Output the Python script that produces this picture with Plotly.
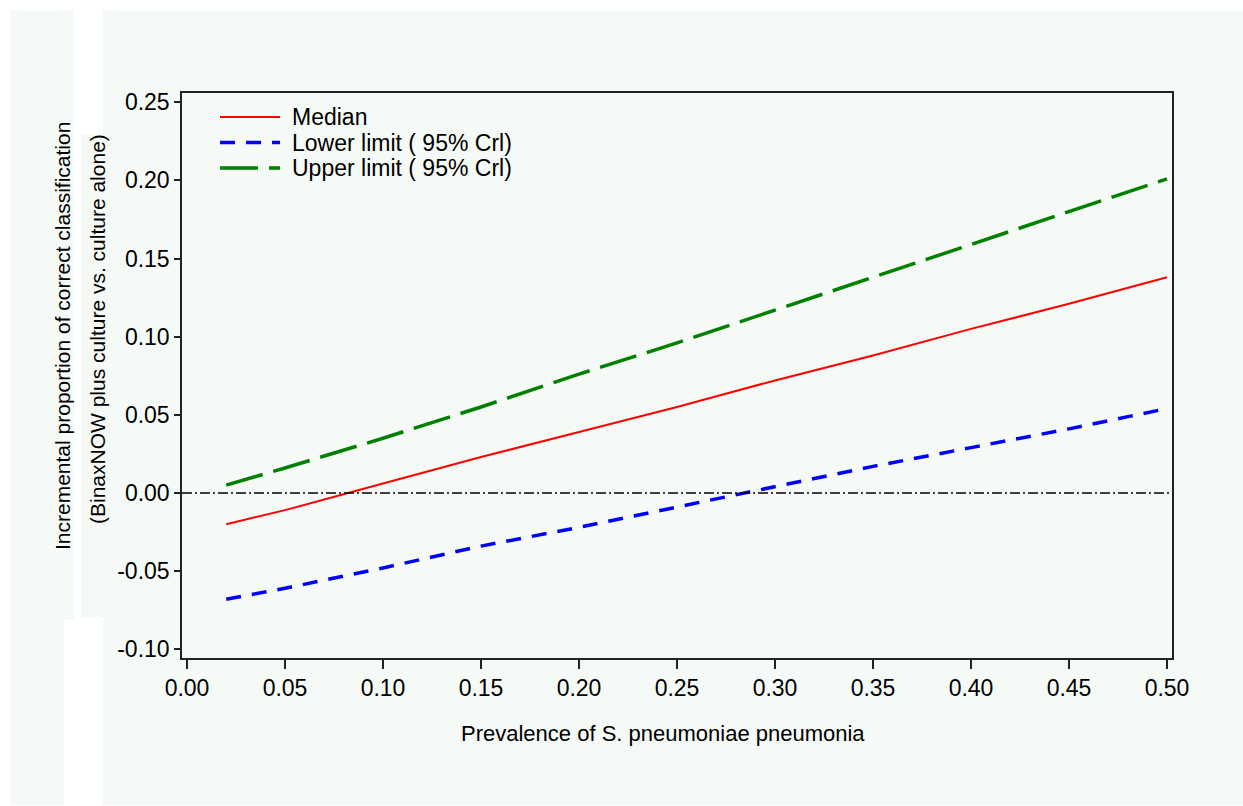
import plotly.graph_objects as go

# ---- data ----
prevalence = [0.02, 0.05, 0.10, 0.15, 0.20, 0.25, 0.30, 0.35, 0.40, 0.45, 0.50]
median = [-0.020, -0.011, 0.006, 0.023, 0.039, 0.055, 0.072, 0.088, 0.105, 0.121, 0.138]
lower = [-0.068, -0.061, -0.048, -0.034, -0.022, -0.009, 0.004, 0.017, 0.029, 0.041, 0.054]
upper = [0.005, 0.016, 0.035, 0.055, 0.076, 0.096, 0.117, 0.138, 0.159, 0.180, 0.201]

series_names = ["Median", "Lower limit ( 95% Crl)", "Upper limit ( 95% Crl)"]
series_colors = ["#ff0000", "#0000ff", "#008000"]
series_widths = [2, 3.5, 3.5]
series_dashes = ["solid", "15px,11px", "38px,11px"]

x_tickvals = [0.00, 0.05, 0.10, 0.15, 0.20, 0.25, 0.30, 0.35, 0.40, 0.45, 0.50]
x_ticktext = ["0.00", "0.05", "0.10", "0.15", "0.20", "0.25", "0.30", "0.35", "0.40", "0.45", "0.50"]
y_tickvals = [-0.10, -0.05, 0.00, 0.05, 0.10, 0.15, 0.20, 0.25]
y_ticktext = ["-0.10", "-0.05", "0.00", "0.05", "0.10", "0.15", "0.20", "0.25"]

x_title = "Prevalence of S. pneumoniae pneumonia"
y_title_1 = "Incremental proportion of correct classification"
y_title_2 = "(BinaxNOW plus culture vs. culture alone)"

# ---- layout constants ----
W, H = 1243, 806
ML, MR, MT, MB = 182, 71, 93, 148
PW, PH = W - ML - MR, H - MT - MB
MINT = "#f5faf6"
FONT = "Liberation Sans, Arial, Helvetica, sans-serif"


def px_x(p):
    return (p - ML) / PW


def px_y(p):
    return (H - MB - p) / PH


fig = go.Figure()
for yvals, name, col, wid, dash in zip([median, lower, upper], series_names,
                                       series_colors, series_widths, series_dashes):
    fig.add_trace(go.Scatter(x=prevalence, y=yvals, mode="lines", name=name,
                             line=dict(color=col, width=wid, dash=dash), showlegend=False))

shapes = []
# background panels (mint areas on a white page)
for (x0, y0, x1, y1) in [(10, 10, 64, 805), (64, 10, 74, 620), (81, 135, 103, 617), (103, 10, 1243, 805)]:
    shapes.append(dict(type="rect", xref="paper", yref="paper", layer="below",
                       x0=px_x(x0), x1=px_x(x1), y0=px_y(y1), y1=px_y(y0),
                       fillcolor=MINT, line=dict(width=0)))
# reference line at zero
shapes.append(dict(type="line", xref="paper", yref="y", x0=0, x1=1, y0=0, y1=0,
                   line=dict(color="#000000", width=1.5, dash="10px,3px,2px,3px")))

annotations = [
    dict(text=x_title, xref="paper", yref="paper", x=px_x(663), y=px_y(733),
         xanchor="center", yanchor="middle", showarrow=False, font=dict(size=22)),
    dict(text=y_title_1, xref="paper", yref="paper", x=px_x(62), y=px_y(336),
         xanchor="center", yanchor="middle", showarrow=False, textangle=-90, font=dict(size=21)),
    dict(text=y_title_2, xref="paper", yref="paper", x=px_x(97), y=px_y(329),
         xanchor="center", yanchor="middle", showarrow=False, textangle=-90, font=dict(size=21)),
]

# legend drawn inside the plot (top-left)
legend_rows = [117, 142.5, 168]
for name, col, wid, dash, row in zip(series_names, series_colors, series_widths,
                                     series_dashes, legend_rows):
    shapes.append(dict(type="line", xref="paper", yref="paper",
                       x0=px_x(220), x1=px_x(280), y0=px_y(row), y1=px_y(row),
                       line=dict(color=col, width=wid, dash=dash)))
    annotations.append(dict(text=name, xref="paper", yref="paper", x=px_x(290), y=px_y(row),
                            xanchor="left", yanchor="middle", showarrow=False,
                            font=dict(size=23)))

fig.update_layout(
    width=W, height=H,
    margin=dict(l=ML, r=MR, t=MT, b=MB, pad=0),
    paper_bgcolor="white", plot_bgcolor=MINT,
    font=dict(family=FONT, size=23, color="black"),
    shapes=shapes, annotations=annotations,
    showlegend=False,
    xaxis=dict(range=[-0.00255, 0.50255], tickvals=x_tickvals, ticktext=x_ticktext,
               ticks="outside", ticklen=9, tickwidth=1.5, tickcolor="#222",
               tickfont=dict(size=23),
               showgrid=False, zeroline=False, showline=True, linecolor="#222",
               linewidth=1.5, mirror=True),
    yaxis=dict(range=[-0.1056, 0.2559], tickvals=y_tickvals, ticktext=y_ticktext,
               ticks="outside", ticklen=6, tickwidth=1.5, tickcolor="#222",
               tickfont=dict(size=23),
               showgrid=False, zeroline=False, showline=True, linecolor="#222",
               linewidth=1.5, mirror=True),
)

fig.write_html("out.html", config={"displayModeBar": False},
               post_script="document.body.style.margin='0px';")
